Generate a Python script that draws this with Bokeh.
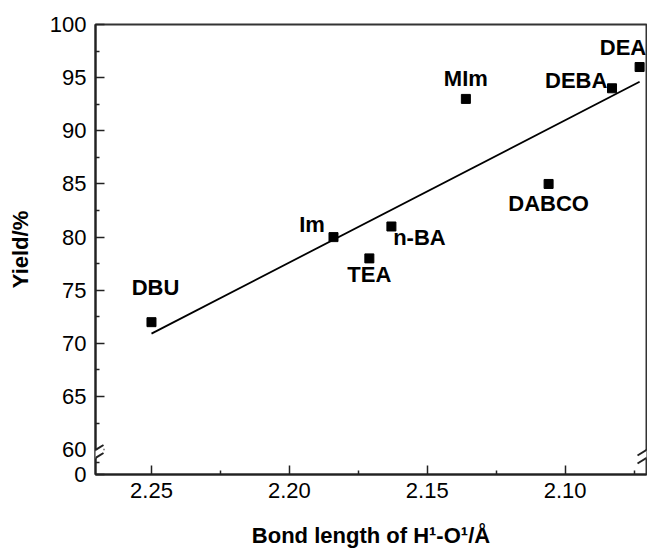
import numpy as np
from bokeh.plotting import figure
from bokeh.models import (Range1d, FixedTicker, CustomJSTickFormatter, NumeralTickFormatter,
                          ColumnDataSource, Arrow, PolyAnnotation)
from bokeh.core.properties import value
from bokeh.embed import file_html
from bokeh.resources import INLINE

# ---- data ----
names = ["DBU", "Im", "TEA", "n-BA", "MIm", "DABCO", "DEBA", "DEA"]
bond_length = [2.250, 2.184, 2.171, 2.163, 2.136, 2.106, 2.083, 2.073]
yield_pct = [72, 80, 78, 81, 93, 85, 94, 96]
x_ticks = [2.25, 2.20, 2.15, 2.10]
x_minor = [2.225, 2.175, 2.125, 2.075]
y_ticks = [60, 65, 70, 75, 80, 85, 90, 95, 100]
y_minor = [62.5, 67.5, 72.5, 77.5, 82.5, 87.5, 92.5, 97.5]
x_title = "Bond length of H\u00b9-O\u00b9/\u00c5"
y_title = "Yield/%"

# ---- layout constants ----
FONT = "Liberation Sans"
BL, BR, BT, BB = 95, 1, 24, 79
W, H = 647, 553
FW, FH = W - BL - BR, H - BT - BB
X0, X1 = 2.2703, 2.0705
Y_BREAK_LOW = 57.67   # display position of the value 0 below the axis break
Y1 = 100

# label offsets (pixels) relative to each point
dx = [4, -21.5, 0, 28, 0, 0, -35.8, -16.6]
dy = [-35, -13, 16.6, 11.3, -20.6, 19.7, -7.4, -19.7]

p = figure(width=W, height=H, x_range=Range1d(X0, X1), y_range=Range1d(Y_BREAK_LOW, Y1),
           output_backend="svg", toolbar_location=None,
           min_border_left=BL, min_border_right=BR, min_border_top=BT, min_border_bottom=BB)
p.grid.visible = False
p.background_fill_color = "white"
p.border_fill_color = "white"
p.outline_line_color = "#333333"
p.outline_line_width = 2

for ax in (p.xaxis[0], p.yaxis[0]):
    ax.axis_line_color = "#222222"
    ax.axis_line_width = 2
    ax.major_tick_line_color = "#222222"
    ax.minor_tick_line_color = "#222222"
    ax.major_tick_line_width = 1.5
    ax.minor_tick_line_width = 1.5
    ax.major_tick_in = 9
    ax.major_tick_out = 0
    ax.minor_tick_in = 4
    ax.minor_tick_out = 0
    ax.major_label_text_font = FONT
    ax.major_label_text_font_size = "22px"
    ax.major_label_text_color = "black"
    ax.axis_label_text_font = FONT
    ax.axis_label_text_font_size = "22px"
    ax.axis_label_text_font_style = "bold"
    ax.axis_label_text_color = "black"

p.xaxis.ticker = FixedTicker(ticks=x_ticks, minor_ticks=x_minor)
p.xaxis.formatter = NumeralTickFormatter(format="0.00")
p.xaxis.major_label_standoff = 8
p.xaxis.axis_label = x_title
p.xaxis.axis_label_standoff = 22

p.yaxis.ticker = FixedTicker(ticks=[Y_BREAK_LOW] + y_ticks,
                             minor_ticks=[(Y_BREAK_LOW + 60) / 2] + y_minor)
p.yaxis.formatter = CustomJSTickFormatter(code="return tick < 59 ? '0' : tick.toFixed(0);")
p.yaxis.major_label_standoff = 9
p.yaxis.axis_label = y_title
p.yaxis.axis_label_standoff = 14

def px2x(px):
    return X0 + (px - BL) * (X1 - X0) / FW

def py2y(py):
    return Y1 - (py - BT) * (Y1 - Y_BREAK_LOW) / FH

# regression line
k, b = np.polyfit(bond_length, yield_pct, 1)
xl = np.array([max(bond_length), min(bond_length)])
p.line(xl, k * xl + b, line_color="black", line_width=1.8)

src = ColumnDataSource(dict(x=bond_length, y=yield_pct, name=names, dx=dx, dy=dy))
p.scatter("x", "y", source=src, marker="square", size=9, color="black")
p.text("x", "y", text="name", source=src, x_offset="dx", y_offset="dy",
       text_align="center", text_baseline="alphabetic",
       text_font=value(FONT), text_font_size="22px", text_font_style="bold", text_color="black")

# axis break marks
for ax_px in (BL, BL + FW):
    gap = PolyAnnotation(xs=[px2x(ax_px - 8), px2x(ax_px + 8), px2x(ax_px + 8), px2x(ax_px - 8)],
                         ys=[py2y(455), py2y(445), py2y(453), py2y(463)],
                         fill_color="white", fill_alpha=1, line_alpha=0)
    p.add_layout(gap)
    for y0 in (455, 463):
        p.add_layout(Arrow(end=None, x_start=px2x(ax_px - 9), y_start=py2y(y0),
                           x_end=px2x(ax_px + 8), y_end=py2y(y0 - 10.5),
                           line_color="#222222", line_width=2))

open("out.html", "w").write(file_html(p, INLINE))
